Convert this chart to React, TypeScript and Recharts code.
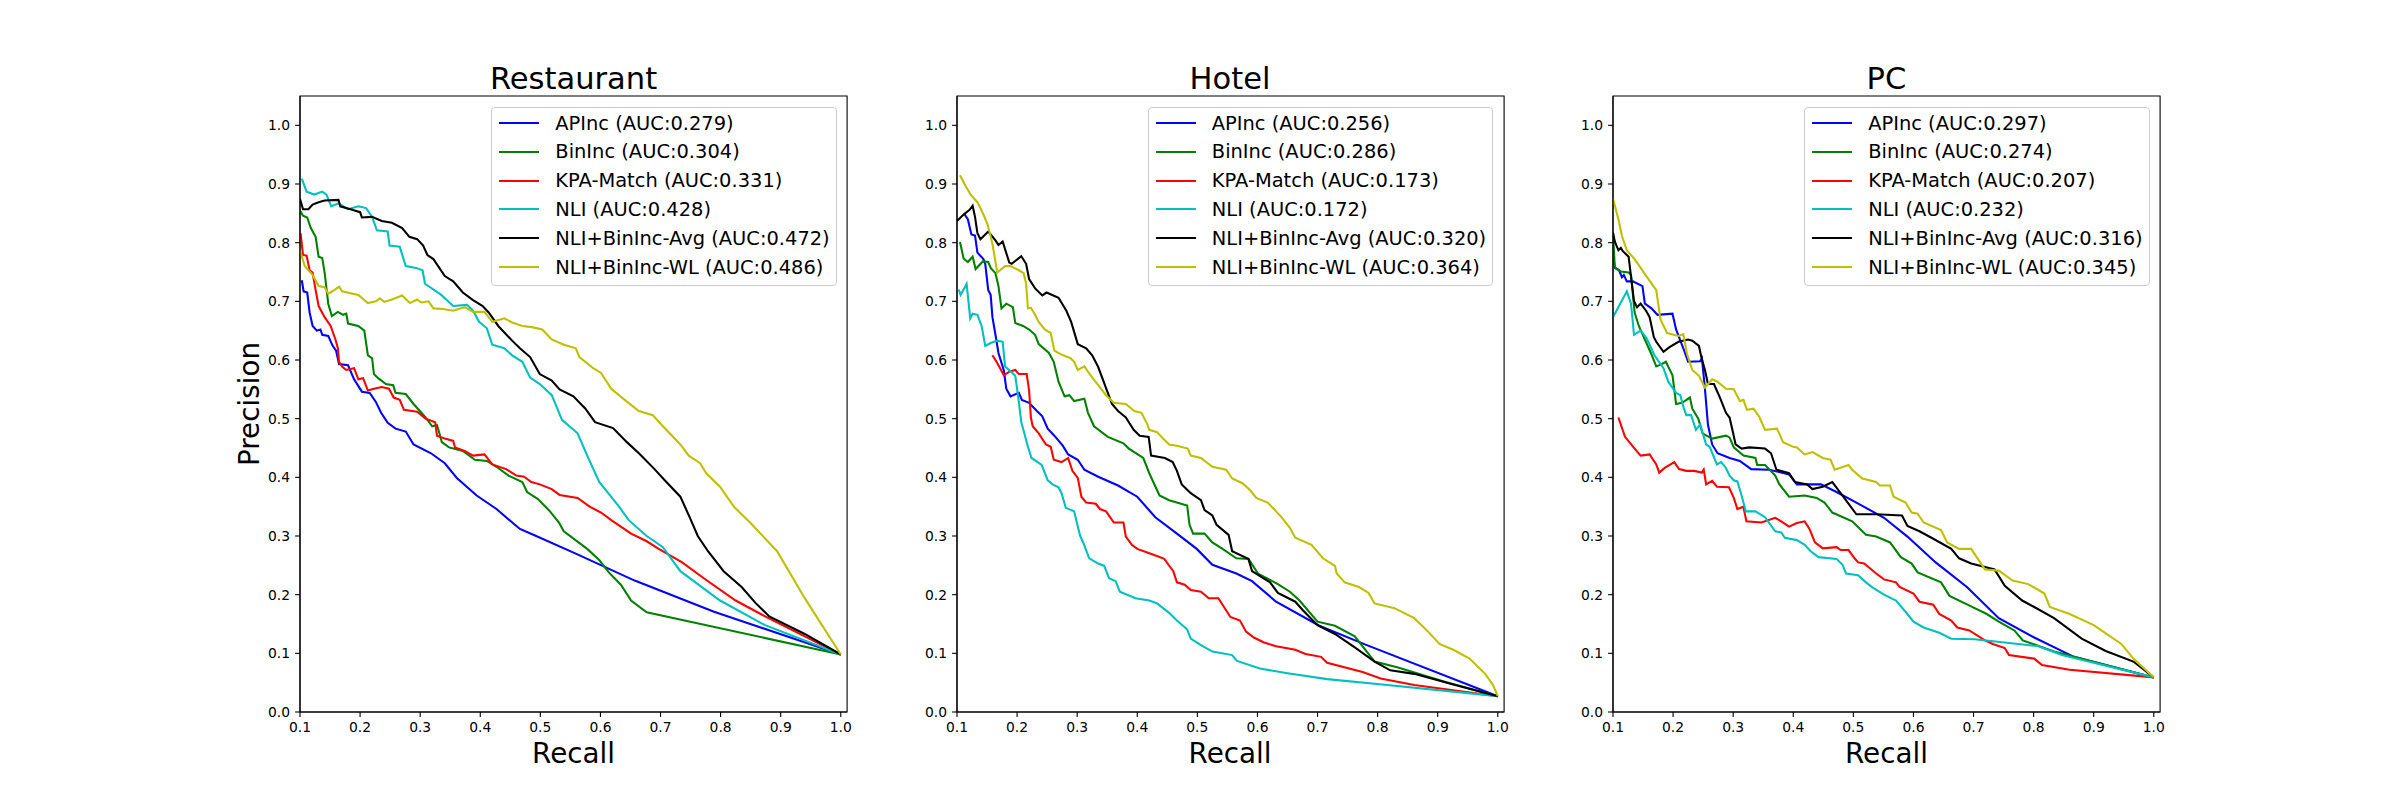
import React from "react";
import { LineChart, Line, XAxis, YAxis, Legend, ReferenceArea } from "recharts";

// method names and AUC values per domain
const methods = ["APInc", "BinInc", "KPA-Match", "NLI", "NLI+BinInc-Avg", "NLI+BinInc-WL"];
const restaurantAuc = [0.279, 0.304, 0.331, 0.428, 0.472, 0.486];
const hotelAuc = [0.256, 0.286, 0.173, 0.172, 0.32, 0.364];
const pcAuc = [0.297, 0.274, 0.207, 0.232, 0.316, 0.345];

const xTicks = [0.1, 0.2, 0.3, 0.4, 0.5, 0.6, 0.7, 0.8, 0.9, 1.0];
const yTicks = [0, 0.1, 0.2, 0.3, 0.4, 0.5, 0.6, 0.7, 0.8, 0.9, 1.0];

// [recall, precision]
const restAPInc = [[0.103,0.736],[0.106,0.717],[0.112,0.715],[0.116,0.681],[0.121,0.658],[0.128,0.65],[0.134,0.652],[0.137,0.643],[0.147,0.641],[0.154,0.625],[0.16,0.616],[0.165,0.593],[0.18,0.591],[0.19,0.567],[0.203,0.546],[0.216,0.544],[0.226,0.529],[0.235,0.51],[0.246,0.493],[0.259,0.483],[0.276,0.478],[0.289,0.456],[0.318,0.441],[0.341,0.424],[0.361,0.399],[0.394,0.369],[0.427,0.346],[0.466,0.312],[0.493,0.3],[0.559,0.27],[0.657,0.224],[0.789,0.171],[1.0,0.098]];
const restBinInc = [[0.1,0.855],[0.105,0.846],[0.112,0.843],[0.118,0.825],[0.126,0.81],[0.131,0.776],[0.137,0.774],[0.141,0.749],[0.147,0.696],[0.153,0.675],[0.163,0.682],[0.172,0.677],[0.177,0.679],[0.18,0.662],[0.197,0.658],[0.207,0.65],[0.213,0.608],[0.22,0.603],[0.223,0.576],[0.23,0.569],[0.243,0.559],[0.255,0.557],[0.259,0.544],[0.276,0.542],[0.289,0.525],[0.309,0.502],[0.32,0.487],[0.328,0.489],[0.332,0.475],[0.336,0.46],[0.348,0.451],[0.371,0.445],[0.391,0.43],[0.411,0.428],[0.427,0.418],[0.447,0.403],[0.47,0.392],[0.478,0.375],[0.496,0.363],[0.516,0.342],[0.531,0.323],[0.539,0.308],[0.578,0.278],[0.598,0.259],[0.614,0.238],[0.634,0.217],[0.651,0.19],[0.677,0.17],[1.0,0.098]];
const restKpa = [[0.101,0.816],[0.105,0.779],[0.111,0.778],[0.116,0.753],[0.121,0.749],[0.126,0.719],[0.131,0.692],[0.141,0.673],[0.151,0.658],[0.159,0.635],[0.163,0.62],[0.165,0.597],[0.17,0.589],[0.177,0.583],[0.19,0.586],[0.197,0.567],[0.205,0.569],[0.213,0.548],[0.223,0.551],[0.236,0.554],[0.248,0.551],[0.256,0.536],[0.266,0.532],[0.273,0.515],[0.295,0.512],[0.309,0.5],[0.325,0.494],[0.328,0.471],[0.341,0.466],[0.355,0.462],[0.358,0.451],[0.374,0.445],[0.388,0.437],[0.407,0.439],[0.42,0.422],[0.443,0.414],[0.46,0.403],[0.473,0.401],[0.485,0.392],[0.499,0.388],[0.519,0.38],[0.532,0.37],[0.562,0.365],[0.582,0.35],[0.601,0.34],[0.618,0.327],[0.651,0.304],[0.677,0.291],[0.697,0.278],[0.736,0.255],[0.772,0.228],[0.825,0.19],[0.874,0.163],[0.94,0.129],[1.0,0.098]];
const restNli = [[0.103,0.909],[0.111,0.887],[0.124,0.882],[0.137,0.887],[0.144,0.882],[0.152,0.862],[0.164,0.867],[0.18,0.857],[0.197,0.862],[0.21,0.859],[0.22,0.844],[0.228,0.821],[0.246,0.819],[0.249,0.795],[0.266,0.793],[0.276,0.76],[0.293,0.757],[0.304,0.753],[0.308,0.73],[0.335,0.711],[0.355,0.692],[0.378,0.694],[0.388,0.684],[0.398,0.665],[0.411,0.654],[0.42,0.626],[0.44,0.62],[0.453,0.608],[0.47,0.597],[0.483,0.57],[0.499,0.559],[0.519,0.54],[0.536,0.498],[0.562,0.475],[0.578,0.437],[0.598,0.392],[0.631,0.35],[0.647,0.327],[0.677,0.3],[0.704,0.281],[0.733,0.24],[0.799,0.19],[0.874,0.148],[1.0,0.098]];
const restAvg = [[0.1,0.875],[0.105,0.857],[0.114,0.857],[0.121,0.865],[0.131,0.869],[0.141,0.872],[0.164,0.873],[0.167,0.862],[0.184,0.857],[0.2,0.852],[0.203,0.843],[0.22,0.844],[0.236,0.837],[0.253,0.834],[0.27,0.825],[0.282,0.81],[0.295,0.806],[0.305,0.795],[0.312,0.779],[0.322,0.772],[0.341,0.743],[0.355,0.734],[0.371,0.715],[0.388,0.702],[0.404,0.692],[0.414,0.681],[0.43,0.658],[0.453,0.633],[0.466,0.62],[0.483,0.605],[0.499,0.576],[0.519,0.565],[0.532,0.55],[0.555,0.538],[0.575,0.517],[0.591,0.494],[0.621,0.484],[0.644,0.46],[0.664,0.441],[0.69,0.414],[0.707,0.395],[0.733,0.367],[0.749,0.331],[0.762,0.3],[0.779,0.274],[0.805,0.24],[0.835,0.213],[0.858,0.186],[0.881,0.163],[0.94,0.133],[1.0,0.098]];
const restWl = [[0.1,0.787],[0.108,0.76],[0.121,0.745],[0.131,0.726],[0.141,0.724],[0.147,0.713],[0.157,0.719],[0.165,0.725],[0.17,0.717],[0.197,0.711],[0.213,0.697],[0.226,0.7],[0.233,0.705],[0.24,0.699],[0.253,0.703],[0.27,0.71],[0.283,0.697],[0.295,0.703],[0.302,0.698],[0.314,0.7],[0.322,0.688],[0.338,0.687],[0.355,0.684],[0.374,0.69],[0.388,0.682],[0.407,0.682],[0.42,0.665],[0.44,0.671],[0.453,0.664],[0.47,0.658],[0.486,0.656],[0.503,0.652],[0.519,0.635],[0.539,0.626],[0.559,0.62],[0.565,0.605],[0.588,0.586],[0.601,0.578],[0.618,0.551],[0.644,0.529],[0.664,0.513],[0.687,0.506],[0.704,0.487],[0.733,0.456],[0.747,0.437],[0.766,0.424],[0.776,0.407],[0.799,0.384],[0.822,0.35],[0.849,0.323],[0.894,0.274],[0.94,0.194],[1.0,0.098]];

const hotelAPInc = [[0.112,0.849],[0.118,0.84],[0.124,0.814],[0.13,0.812],[0.134,0.783],[0.144,0.772],[0.147,0.764],[0.152,0.719],[0.156,0.711],[0.159,0.673],[0.164,0.643],[0.169,0.612],[0.178,0.582],[0.182,0.551],[0.189,0.538],[0.203,0.544],[0.208,0.532],[0.22,0.527],[0.233,0.513],[0.242,0.504],[0.251,0.483],[0.262,0.471],[0.276,0.454],[0.285,0.439],[0.301,0.43],[0.312,0.413],[0.335,0.401],[0.368,0.386],[0.4,0.367],[0.43,0.332],[0.466,0.304],[0.499,0.278],[0.525,0.251],[0.565,0.236],[0.591,0.223],[0.631,0.188],[0.703,0.147],[0.782,0.114],[1.0,0.027]];
const hotelBinInc = [[0.105,0.801],[0.111,0.773],[0.118,0.767],[0.126,0.776],[0.131,0.755],[0.143,0.768],[0.152,0.767],[0.156,0.757],[0.164,0.748],[0.169,0.726],[0.174,0.688],[0.182,0.696],[0.193,0.69],[0.197,0.663],[0.21,0.658],[0.22,0.652],[0.23,0.643],[0.236,0.627],[0.253,0.612],[0.261,0.597],[0.269,0.563],[0.279,0.538],[0.287,0.54],[0.295,0.53],[0.312,0.534],[0.318,0.51],[0.328,0.487],[0.351,0.469],[0.377,0.458],[0.386,0.449],[0.41,0.433],[0.42,0.407],[0.437,0.369],[0.453,0.361],[0.483,0.352],[0.487,0.319],[0.493,0.304],[0.512,0.304],[0.525,0.289],[0.542,0.278],[0.565,0.262],[0.585,0.261],[0.601,0.236],[0.634,0.218],[0.654,0.205],[0.67,0.19],[0.7,0.154],[0.729,0.147],[0.762,0.129],[0.795,0.086],[0.834,0.076],[0.913,0.051],[1.0,0.027]];
const hotelKpa = [[0.159,0.608],[0.167,0.595],[0.178,0.574],[0.187,0.58],[0.197,0.583],[0.203,0.576],[0.216,0.576],[0.22,0.548],[0.223,0.502],[0.226,0.487],[0.236,0.475],[0.248,0.456],[0.256,0.452],[0.261,0.43],[0.274,0.426],[0.285,0.433],[0.292,0.411],[0.301,0.399],[0.307,0.367],[0.315,0.357],[0.331,0.355],[0.338,0.346],[0.348,0.342],[0.361,0.323],[0.377,0.323],[0.381,0.299],[0.391,0.285],[0.4,0.278],[0.427,0.268],[0.445,0.261],[0.452,0.251],[0.46,0.24],[0.466,0.221],[0.479,0.217],[0.489,0.208],[0.506,0.205],[0.519,0.194],[0.535,0.194],[0.555,0.162],[0.571,0.156],[0.581,0.137],[0.594,0.127],[0.61,0.119],[0.631,0.112],[0.663,0.106],[0.68,0.099],[0.706,0.094],[0.716,0.084],[0.775,0.068],[0.805,0.057],[0.861,0.046],[1.0,0.027]];
const hotelNli = [[0.103,0.72],[0.106,0.711],[0.111,0.72],[0.116,0.73],[0.122,0.671],[0.126,0.679],[0.134,0.677],[0.141,0.658],[0.147,0.624],[0.156,0.629],[0.167,0.633],[0.176,0.631],[0.18,0.589],[0.19,0.58],[0.197,0.573],[0.202,0.536],[0.207,0.494],[0.211,0.479],[0.218,0.452],[0.224,0.433],[0.241,0.421],[0.251,0.395],[0.259,0.388],[0.269,0.383],[0.274,0.373],[0.281,0.348],[0.295,0.342],[0.301,0.316],[0.305,0.3],[0.31,0.289],[0.32,0.262],[0.335,0.253],[0.345,0.249],[0.353,0.228],[0.364,0.223],[0.371,0.205],[0.397,0.194],[0.42,0.19],[0.433,0.185],[0.453,0.169],[0.466,0.156],[0.483,0.141],[0.489,0.125],[0.506,0.114],[0.525,0.103],[0.558,0.097],[0.566,0.087],[0.604,0.074],[0.65,0.066],[0.716,0.056],[0.795,0.048],[1.0,0.027]];
const hotelAvg = [[0.1,0.837],[0.111,0.848],[0.121,0.856],[0.126,0.863],[0.13,0.844],[0.134,0.816],[0.139,0.806],[0.152,0.819],[0.164,0.804],[0.169,0.796],[0.176,0.802],[0.187,0.766],[0.191,0.764],[0.207,0.777],[0.215,0.764],[0.22,0.738],[0.23,0.722],[0.242,0.71],[0.249,0.715],[0.269,0.706],[0.282,0.684],[0.29,0.665],[0.301,0.627],[0.315,0.62],[0.325,0.608],[0.335,0.588],[0.351,0.544],[0.358,0.525],[0.368,0.513],[0.381,0.502],[0.394,0.481],[0.404,0.471],[0.419,0.469],[0.423,0.437],[0.446,0.433],[0.459,0.426],[0.466,0.411],[0.474,0.388],[0.489,0.373],[0.506,0.361],[0.512,0.344],[0.525,0.335],[0.532,0.319],[0.552,0.302],[0.558,0.274],[0.585,0.261],[0.591,0.24],[0.621,0.221],[0.634,0.203],[0.663,0.188],[0.676,0.173],[0.7,0.148],[0.729,0.133],[0.762,0.11],[0.795,0.086],[0.821,0.071],[0.861,0.065],[0.926,0.047],[1.0,0.027]];
const hotelWl = [[0.105,0.915],[0.114,0.897],[0.124,0.88],[0.134,0.869],[0.144,0.848],[0.151,0.831],[0.159,0.798],[0.167,0.749],[0.18,0.76],[0.189,0.76],[0.203,0.753],[0.211,0.748],[0.215,0.73],[0.218,0.688],[0.223,0.689],[0.23,0.677],[0.236,0.665],[0.246,0.652],[0.256,0.646],[0.262,0.616],[0.272,0.61],[0.289,0.603],[0.295,0.597],[0.301,0.583],[0.312,0.589],[0.322,0.574],[0.335,0.557],[0.348,0.54],[0.361,0.527],[0.381,0.525],[0.395,0.513],[0.407,0.51],[0.417,0.49],[0.42,0.481],[0.433,0.477],[0.443,0.466],[0.453,0.456],[0.466,0.454],[0.484,0.449],[0.489,0.437],[0.506,0.433],[0.525,0.418],[0.548,0.413],[0.558,0.398],[0.575,0.39],[0.588,0.378],[0.598,0.365],[0.617,0.357],[0.631,0.342],[0.641,0.331],[0.654,0.314],[0.663,0.297],[0.69,0.285],[0.709,0.262],[0.729,0.249],[0.732,0.236],[0.745,0.221],[0.769,0.213],[0.785,0.203],[0.795,0.185],[0.828,0.177],[0.861,0.16],[0.884,0.137],[0.903,0.116],[0.926,0.106],[0.953,0.091],[0.979,0.065],[0.992,0.046],[1.0,0.027]];

const pcAPInc = [[0.1,0.779],[0.103,0.757],[0.11,0.753],[0.115,0.741],[0.118,0.745],[0.123,0.734],[0.133,0.734],[0.149,0.726],[0.153,0.696],[0.164,0.688],[0.174,0.677],[0.199,0.679],[0.205,0.652],[0.217,0.62],[0.225,0.597],[0.245,0.598],[0.248,0.603],[0.253,0.551],[0.258,0.49],[0.265,0.456],[0.274,0.441],[0.294,0.433],[0.311,0.428],[0.33,0.414],[0.36,0.413],[0.393,0.405],[0.406,0.388],[0.446,0.388],[0.472,0.375],[0.505,0.357],[0.551,0.331],[0.59,0.299],[0.637,0.255],[0.689,0.213],[0.742,0.16],[0.801,0.127],[0.867,0.094],[1.0,0.059]];
const pcBinInc = [[0.1,0.817],[0.103,0.758],[0.113,0.751],[0.126,0.749],[0.13,0.745],[0.136,0.681],[0.143,0.658],[0.153,0.635],[0.163,0.612],[0.172,0.589],[0.181,0.593],[0.188,0.597],[0.199,0.574],[0.205,0.525],[0.215,0.527],[0.228,0.536],[0.232,0.517],[0.242,0.5],[0.249,0.475],[0.265,0.466],[0.288,0.471],[0.294,0.468],[0.301,0.451],[0.317,0.437],[0.337,0.433],[0.34,0.421],[0.353,0.421],[0.37,0.403],[0.377,0.388],[0.393,0.367],[0.419,0.369],[0.439,0.365],[0.452,0.357],[0.465,0.34],[0.498,0.325],[0.521,0.302],[0.538,0.299],[0.561,0.289],[0.579,0.264],[0.597,0.253],[0.607,0.238],[0.646,0.221],[0.66,0.198],[0.696,0.18],[0.722,0.167],[0.742,0.154],[0.768,0.139],[0.782,0.122],[0.834,0.103],[1.0,0.059]];
const pcKpa = [[0.109,0.502],[0.12,0.469],[0.136,0.449],[0.146,0.437],[0.161,0.439],[0.172,0.422],[0.177,0.408],[0.186,0.416],[0.202,0.426],[0.21,0.414],[0.222,0.411],[0.235,0.411],[0.248,0.408],[0.251,0.413],[0.255,0.388],[0.265,0.394],[0.273,0.384],[0.293,0.383],[0.301,0.365],[0.307,0.346],[0.317,0.35],[0.322,0.325],[0.347,0.323],[0.37,0.331],[0.38,0.325],[0.393,0.316],[0.406,0.322],[0.419,0.325],[0.427,0.312],[0.436,0.289],[0.449,0.279],[0.472,0.281],[0.479,0.276],[0.492,0.276],[0.502,0.262],[0.508,0.255],[0.518,0.253],[0.538,0.236],[0.551,0.226],[0.571,0.221],[0.577,0.213],[0.6,0.202],[0.61,0.188],[0.633,0.183],[0.643,0.167],[0.663,0.156],[0.673,0.144],[0.693,0.139],[0.719,0.122],[0.732,0.116],[0.752,0.109],[0.759,0.097],[0.801,0.091],[0.814,0.08],[0.86,0.072],[1.0,0.059]];
const pcNli = [[0.1,0.673],[0.11,0.692],[0.123,0.717],[0.13,0.696],[0.135,0.643],[0.146,0.65],[0.156,0.637],[0.169,0.608],[0.184,0.586],[0.192,0.563],[0.205,0.544],[0.212,0.54],[0.218,0.517],[0.222,0.506],[0.23,0.506],[0.238,0.481],[0.245,0.49],[0.255,0.456],[0.261,0.452],[0.273,0.422],[0.28,0.426],[0.288,0.416],[0.294,0.403],[0.301,0.395],[0.307,0.393],[0.314,0.369],[0.321,0.342],[0.337,0.342],[0.353,0.332],[0.37,0.308],[0.38,0.306],[0.386,0.297],[0.406,0.293],[0.419,0.285],[0.429,0.274],[0.442,0.264],[0.472,0.261],[0.482,0.251],[0.488,0.236],[0.508,0.233],[0.521,0.221],[0.531,0.213],[0.551,0.2],[0.571,0.19],[0.59,0.167],[0.6,0.154],[0.617,0.144],[0.643,0.135],[0.663,0.125],[0.702,0.124],[0.748,0.119],[0.808,0.112],[0.847,0.097],[0.9,0.084],[1.0,0.059]];
const pcAvg = [[0.1,0.817],[0.103,0.802],[0.109,0.787],[0.113,0.791],[0.116,0.786],[0.126,0.776],[0.135,0.7],[0.14,0.69],[0.146,0.696],[0.155,0.684],[0.161,0.673],[0.168,0.639],[0.172,0.631],[0.184,0.614],[0.194,0.622],[0.209,0.631],[0.225,0.635],[0.232,0.633],[0.243,0.624],[0.247,0.605],[0.253,0.583],[0.258,0.559],[0.268,0.559],[0.274,0.545],[0.278,0.536],[0.288,0.51],[0.294,0.502],[0.3,0.475],[0.304,0.456],[0.314,0.449],[0.327,0.451],[0.353,0.449],[0.363,0.441],[0.372,0.413],[0.393,0.407],[0.403,0.392],[0.423,0.388],[0.432,0.38],[0.449,0.384],[0.465,0.392],[0.482,0.369],[0.505,0.337],[0.538,0.337],[0.581,0.335],[0.59,0.317],[0.61,0.308],[0.63,0.297],[0.663,0.278],[0.676,0.262],[0.696,0.253],[0.735,0.243],[0.752,0.215],[0.781,0.19],[0.801,0.179],[0.834,0.16],[0.88,0.125],[0.92,0.104],[0.966,0.086],[1.0,0.059]];
const pcWl = [[0.1,0.875],[0.109,0.84],[0.115,0.811],[0.123,0.787],[0.136,0.772],[0.146,0.757],[0.159,0.738],[0.172,0.719],[0.179,0.669],[0.19,0.646],[0.209,0.641],[0.217,0.644],[0.223,0.611],[0.232,0.583],[0.243,0.573],[0.253,0.553],[0.265,0.567],[0.274,0.563],[0.281,0.557],[0.288,0.551],[0.301,0.55],[0.311,0.53],[0.317,0.532],[0.323,0.515],[0.334,0.517],[0.344,0.502],[0.353,0.481],[0.373,0.483],[0.383,0.46],[0.4,0.452],[0.406,0.451],[0.419,0.439],[0.432,0.443],[0.449,0.433],[0.462,0.43],[0.469,0.413],[0.492,0.421],[0.498,0.413],[0.515,0.398],[0.538,0.392],[0.544,0.386],[0.561,0.386],[0.567,0.367],[0.587,0.357],[0.597,0.34],[0.607,0.338],[0.617,0.323],[0.646,0.31],[0.656,0.289],[0.676,0.278],[0.696,0.278],[0.719,0.243],[0.742,0.241],[0.765,0.224],[0.791,0.218],[0.818,0.202],[0.827,0.179],[0.86,0.167],[0.9,0.148],[0.946,0.116],[0.966,0.091],[1.0,0.059]];

const panels = [
  { title: "Restaurant", auc: restaurantAuc, series: [restAPInc, restBinInc, restKpa, restNli, restAvg, restWl] },
  { title: "Hotel", auc: hotelAuc, series: [hotelAPInc, hotelBinInc, hotelKpa, hotelNli, hotelAvg, hotelWl] },
  { title: "PC", auc: pcAuc, series: [pcAPInc, pcBinInc, pcKpa, pcNli, pcAvg, pcWl] },
];

const colors = ["#0000ff", "#008000", "#ff0000", "#00bfbf", "#000000", "#bfbf00"];
const FONT = "DejaVu Sans";

// axes geometry (matplotlib default subplot params, 24x8in @ 100dpi)
const FIG_W = 2400;
const FIG_H = 800;
const AX_TOP = 96;
const AX_H = 616;
const AX_W = 547.1;
const AX_LEFTS = [300, 956.5, 1612.9];
const Y_AXIS_W = 60;
const PAD_L = 100;
const PAD_R = 12;
const X_AXIS_H = 30;
const X_MAX = 1.0105;
const Y_MAX = 1.05;

const fmt = (v: number) => v.toFixed(1);

function renderLegend(props: any) {
  const items = props.payload || [];
  return (
    <div
      style={{
        background: "rgba(255,255,255,0.8)",
        border: "1.4px solid #cccccc",
        borderRadius: 4,
        padding: "1px 6px 4px 7px",
        fontFamily: FONT,
        fontSize: 19.44,
        color: "#000",
      }}
    >
      {items.map((e: any) => (
        <div key={e.value} style={{ display: "flex", alignItems: "center", height: 28.8, whiteSpace: "nowrap" }}>
          <svg width={40} height={6} style={{ marginRight: 16 }}>
            <line x1={0} y1={3} x2={40} y2={3} stroke={e.color} strokeWidth={2.08} />
          </svg>
          <span>{e.value}</span>
        </div>
      ))}
    </div>
  );
}

function Panel({ panel, left }: { panel: any; left: number }) {
  const chartW = PAD_L + AX_W + PAD_R;
  const tickStyle = { fill: "#000", fontSize: 13.9, fontFamily: FONT };
  return (
    <div style={{ position: "absolute", left: left - PAD_L, top: 0 }}>
      <LineChart
        width={chartW}
        height={FIG_H}
        margin={{ top: AX_TOP, right: PAD_R, left: PAD_L - Y_AXIS_W, bottom: FIG_H - AX_TOP - AX_H - X_AXIS_H }}
      >
        <XAxis
          type="number"
          dataKey="r"
          domain={[0.1, X_MAX]}
          ticks={xTicks}
          tickFormatter={fmt}
          allowDataOverflow
          height={X_AXIS_H}
          tickSize={4.9}
          tickMargin={5}
          stroke="#000"
          strokeWidth={1.1}
          tick={tickStyle}
        />
        <YAxis
          type="number"
          domain={[0, Y_MAX]}
          ticks={yTicks}
          tickFormatter={fmt}
          allowDataOverflow
          width={Y_AXIS_W}
          tickSize={4.9}
          tickMargin={5}
          stroke="#000"
          strokeWidth={1.1}
          tick={tickStyle}
        />
        <ReferenceArea x1={0.1} x2={X_MAX} y1={0} y2={Y_MAX} fill="none" stroke="#000" strokeWidth={1.1} ifOverflow="visible" />
        {panel.series.map((s: number[][], i: number) => (
          <Line
            key={methods[i]}
            data={s.map(([r, p]) => ({ r, p }))}
            dataKey="p"
            name={`${methods[i]} (AUC:${panel.auc[i].toFixed(3)})`}
            type="linear"
            stroke={colors[i]}
            strokeWidth={2.08}
            dot={false}
            activeDot={false}
            isAnimationActive={false}
          />
        ))}
        <Legend
          layout="vertical"
          align="center"
          verticalAlign="middle"
          content={renderLegend}
          wrapperStyle={{ top: AX_TOP + 10.7, right: PAD_R + 10.4, left: "auto", bottom: "auto", width: "auto", height: "auto" }}
        />
      </LineChart>
    </div>
  );
}

export default function App() {
  return (
    <div style={{ position: "fixed", left: 0, top: 0, width: FIG_W, height: FIG_H, background: "#fff", overflow: "hidden" }}>
      {panels.map((p, i) => (
        <Panel key={p.title} panel={p} left={AX_LEFTS[i]} />
      ))}
      <svg width={FIG_W} height={FIG_H} style={{ position: "absolute", left: 0, top: 0, pointerEvents: "none" }} fontFamily={FONT}>
        {panels.map((p, i) => (
          <g key={p.title}>
            <text x={AX_LEFTS[i] + AX_W / 2} y={89} textAnchor="middle" fontSize={30.56} fill="#000">
              {p.title}
            </text>
            <text x={AX_LEFTS[i] + AX_W / 2} y={762.7} textAnchor="middle" fontSize={27.8} fill="#000">
              Recall
            </text>
          </g>
        ))}
        <text
          x={259.3}
          y={AX_TOP + AX_H / 2}
          textAnchor="middle"
          fontSize={27.8}
          fill="#000"
          transform={`rotate(-90 259.3 ${AX_TOP + AX_H / 2})`}
        >
          Precision
        </text>
      </svg>
    </div>
  );
}
